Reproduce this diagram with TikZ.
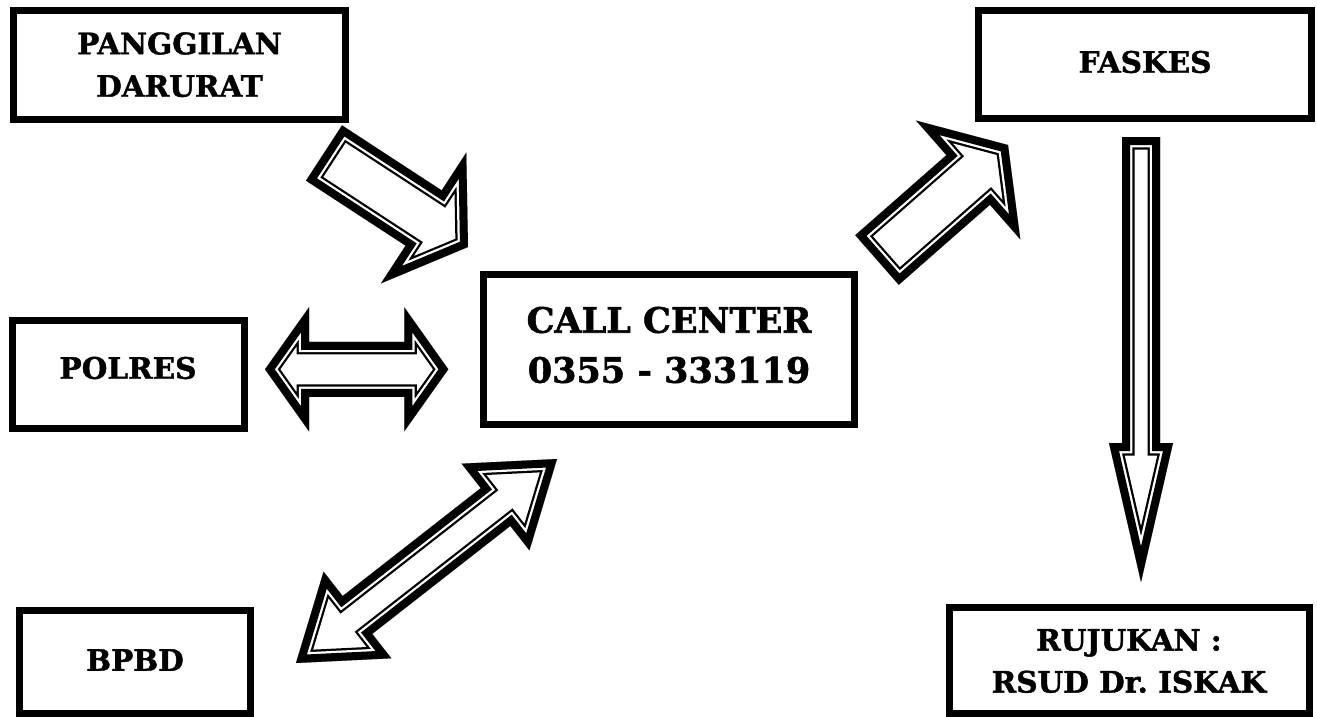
\documentclass[tikz,border=0pt]{standalone}
\usepackage{fontspec}
\setmainfont{DejaVu Serif}[BoldFeatures={FakeBold=1.5}]
\usetikzlibrary{calc}

% Block arrow outline: thick outer rule, white gap, thin inner rule
\newcommand\arrowlayers[1]{%
  \begin{scope}
    \clip #1;
    \draw[line width=25pt] #1;
    \draw[white,line width=20.5pt] #1;
    \draw[line width=16pt] #1;
  \end{scope}}

% Single block arrow: #1 tail centre, #2 tip, #3 half shaft width,
% #4 half head width, #5 head length
\newcommand\blocksingle[5]{%
  \coordinate (hb) at ($(#2)!#5!(#1)$);
  \coordinate (q1) at ($(#1)!#3!90:(#2)$);
  \coordinate (q2) at ($(hb)!#3!-90:(#1)$);
  \coordinate (q3) at ($(hb)!#4!-90:(#1)$);
  \coordinate (q4) at ($(hb)!#4!90:(#1)$);
  \coordinate (q5) at ($(hb)!#3!90:(#1)$);
  \coordinate (q6) at ($(#1)!#3!-90:(#2)$);
  \arrowlayers{(q1) -- (q2) -- (q3) -- (#2) -- (q4) -- (q5) -- (q6) -- cycle}}

% Double-headed block arrow between tips #1 and #2
\newcommand\blockdouble[5]{%
  \coordinate (ha) at ($(#1)!#5!(#2)$);
  \coordinate (hb) at ($(#2)!#5!(#1)$);
  \coordinate (q1) at ($(ha)!#4!90:(#2)$);
  \coordinate (q2) at ($(ha)!#3!90:(#2)$);
  \coordinate (q3) at ($(hb)!#3!-90:(#1)$);
  \coordinate (q4) at ($(hb)!#4!-90:(#1)$);
  \coordinate (q5) at ($(hb)!#4!90:(#1)$);
  \coordinate (q6) at ($(hb)!#3!90:(#1)$);
  \coordinate (q7) at ($(ha)!#3!-90:(#2)$);
  \coordinate (q8) at ($(ha)!#4!-90:(#2)$);
  \arrowlayers{(#1) -- (q1) -- (q2) -- (q3) -- (q4) -- (#2) -- (q5) -- (q6) -- (q7) -- (q8) -- cycle}}

\tikzset{
  box/.style={draw, line width=7pt, rectangle, inner sep=0pt},
  lbl/.style={align=center, inner sep=0pt, font=\bfseries\fontsize{29.5}{42.5}\selectfont},
  biglbl/.style={align=center, inner sep=0pt, font=\bfseries\fontsize{35}{50}\selectfont},
}

\begin{document}
\begin{tikzpicture}[x=1pt,y=-1pt,line join=miter,miter limit=20]
\useasboundingbox[fill=white] (0,0) rectangle (1317,717);
\clip (0,0) rectangle (1317,717);

% boxes
\node[box, minimum width=332pt, minimum height=109pt] (pang) at (179.5,65) {};
\node[box, minimum width=333pt, minimum height=108pt] (faskes) at (1145,64.5) {};
\node[box, minimum width=232pt, minimum height=108pt] (polres) at (128.5,374.5) {};
\node[box, minimum width=371pt, minimum height=150pt] (callc) at (669,349.5) {};
\node[box, minimum width=231pt, minimum height=103pt] (bpbd) at (135,662) {};
\node[box, minimum width=360pt, minimum height=106pt] (rujuk) at (1129.5,660.5) {};

% labels
\node[lbl] (pangtxt) at (179.5,64.75) {PANGGILAN\\DARURAT};
\node[lbl] (faskestxt) at (1145,62) {FASKES};
\node[lbl] (polrestxt) at (128,368) {POLRES};
\node[biglbl] (callctxt) at (669,345) {CALL CENTER\\0355 - 333119};
\node[lbl] (bpbdtxt) at (135,660) {BPBD};
\node[lbl, font=\bfseries\fontsize{29.5}{42}\selectfont] (rujuktxt) at (1129,661) {RUJUKAN :\\RSUD Dr.\ ISKAK};

% arrow end points
\coordinate (a1s) at (324,153);
\coordinate (a1e) at (468,247);
\coordinate (a2s) at (265,369.3);
\coordinate (a2e) at (448.3,369.3);
\coordinate (a3s) at (877,260);
\coordinate (a3e) at (1008,145);
\coordinate (a4s) at (296,663);
\coordinate (a4e) at (557,459);
\coordinate (a5s) at (1141,137);
\coordinate (a5e) at (1141,582);

% connectors
\blocksingle{a1s}{a1e}{33pt}{78pt}{53pt}
\blockdouble{a2s}{a2e}{27.5pt}{62pt}{44pt}
\blocksingle{a3s}{a3e}{33pt}{79pt}{53pt}
\blockdouble{a4s}{a4e}{24pt}{55pt}{78pt}
\blocksingle{a5s}{a5e}{19pt}{32pt}{139pt}
\end{tikzpicture}
\end{document}
